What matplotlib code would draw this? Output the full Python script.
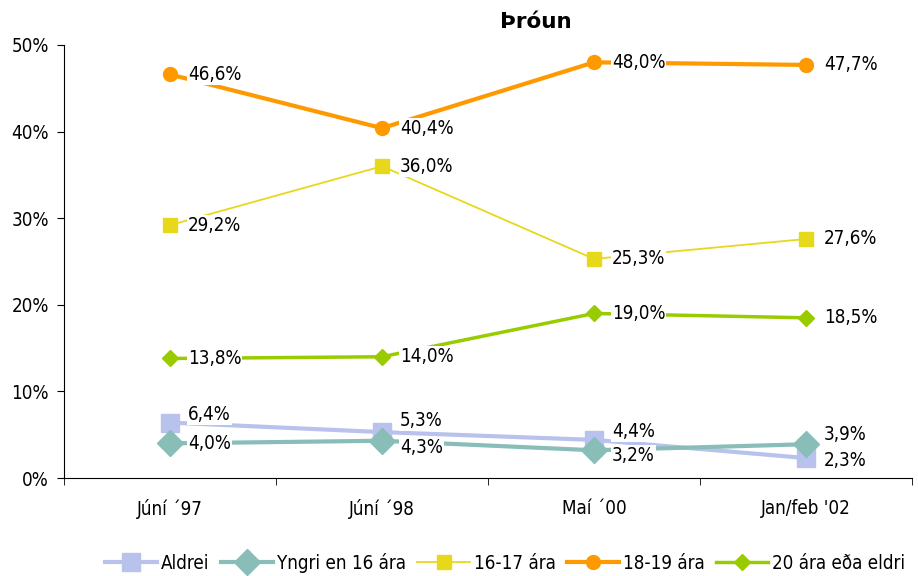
import matplotlib
matplotlib.use('Agg')
import matplotlib.pyplot as plt
from matplotlib import font_manager

# condensed font if there is one, otherwise plain DejaVu
names = {f.name for f in font_manager.fontManager.ttflist}
fam = 'Liberation Sans Narrow' if 'Liberation Sans Narrow' in names else 'DejaVu Sans'
plt.rcParams['font.family'] = [fam, 'DejaVu Sans']
plt.rcParams['font.stretch'] = 'condensed'

periods = ['Júní ´97', 'Júní ´98', 'Maí ´00', "Jan/feb '02"]
series_names = ['Aldrei', 'Yngri en 16 ára', '16-17 ára', '18-19 ára', '20 ára eða eldri']
aldrei = [6.4, 5.3, 4.4, 2.3]
yngri16 = [4.0, 4.3, 3.2, 3.9]
a16_17 = [29.2, 36.0, 25.3, 27.6]
a18_19 = [46.6, 40.4, 48.0, 47.7]
a20plus = [13.8, 14.0, 19.0, 18.5]
values = [aldrei, yngri16, a16_17, a18_19, a20plus]

colors = ['#B8C2EC', '#88BDB8', '#E8D81C', '#FF9900', '#99CC00']
markers = ['s', 'D', 's', 'o', 'D']
msizes = [13.5, 13.5, 9.5, 10, 8.5]
lwidths = [3, 3, 1.3, 3, 2.5]

# label offsets in points (dx, dy) for each series/point
offsets = [
    [(13, 6), (13, 8), (13, 6), (13, -2)],
    [(13, 0), (13, -5), (13, -4), (13, 7)],
    [(13, 0), (13, 0), (13, 0), (13, 0)],
    [(13, 0), (13, 0), (13, 0), (13, 0)],
    [(13, 0), (13, 0), (13, 0), (13, 0)],
]

fig = plt.figure(figsize=(9.18, 5.76), dpi=100)
ax = fig.add_axes([64/918, 98/576, 848/918, 433/576])

x = list(range(len(periods)))
handles = []
for vals, name, c, m, ms, lw, offs in zip(values, series_names, colors, markers, msizes, lwidths, offsets):
    h, = ax.plot(x, vals, color=c, marker=m, markersize=ms, linewidth=lw,
                 markeredgecolor=c, label=name, zorder=2)
    handles.append(h)
    for xi, v, (dx, dy) in zip(x, vals, offs):
        ax.annotate(f'{v:.1f}%'.replace('.', ','), (xi, v), xytext=(dx, dy),
                    textcoords='offset points', ha='left', va='center', fontsize=13.5,
                    bbox=dict(boxstyle='square,pad=0.05', fc='white', ec='none'), zorder=3)

ax.set_xlim(-0.5, 3.5)
ax.set_ylim(0, 50)
ax.set_yticks([0, 10, 20, 30, 40, 50])
ax.set_yticklabels([f'{t}%' for t in [0, 10, 20, 30, 40, 50]], fontsize=13.5)
ax.set_xticks(x)
ax.set_xticklabels(periods, fontsize=13.5)
ax.set_xticks([-0.5, 0.5, 1.5, 2.5, 3.5], minor=True)
ax.tick_params(axis='x', which='major', length=0, pad=15)
ax.tick_params(axis='x', which='minor', length=5, direction='out')
ax.tick_params(axis='y', length=5, direction='out', pad=6)
for s in ['top', 'right']:
    ax.spines[s].set_visible(False)

fig.text(536/918, 1 - 22/576, 'Þróun', ha='center', va='center', fontsize=15.5,
         fontweight='bold', fontstretch='normal')

fig.legend(handles=handles, loc='center', bbox_to_anchor=(505/918, 1 - 563/576), ncol=5,
           frameon=False, fontsize=13.5, handlelength=2.8, handletextpad=0.2, columnspacing=0.6)

fig.savefig('out.png', dpi=100)
